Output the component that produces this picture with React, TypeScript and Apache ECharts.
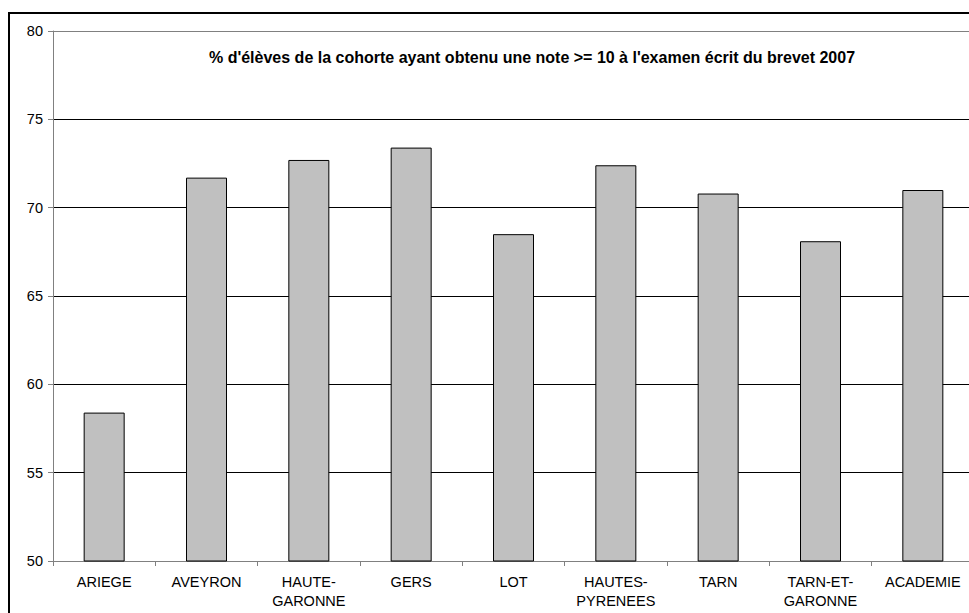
import React, { useEffect, useRef } from "react";
import * as echarts from "echarts";

const categories: string[] = [
  "ARIEGE",
  "AVEYRON",
  "HAUTE-\nGARONNE",
  "GERS",
  "LOT",
  "HAUTES-\nPYRENEES",
  "TARN",
  "TARN-ET-\nGARONNE",
  "ACADEMIE",
];
const values: number[] = [58.4, 71.7, 72.7, 73.4, 68.5, 72.4, 70.8, 68.1, 71.0];
const yMin = 50;
const yMax = 80;
const yStep = 5;
const chartTitle =
  "% d'élèves de la cohorte ayant obtenu une note >= 10 à l'examen écrit du brevet 2007";

const FONT = "'Liberation Sans', Arial, sans-serif";

export default function App() {
  const ref = useRef<HTMLDivElement>(null);
  useEffect(() => {
    if (!ref.current) return;
    const chart = echarts.init(ref.current, undefined, { renderer: "svg" });
    const option: any = {
      animation: false,
      backgroundColor: "transparent",
      textStyle: { fontFamily: FONT },
      grid: {
        left: 53,
        top: 31,
        width: 921,
        height: 530,
        containLabel: false,
        outerBoundsMode: "none",
        show: false,
      },
      graphic: [
        {
          type: "text",
          x: 532,
          y: 57,
          style: {
            text: chartTitle,
            fontFamily: FONT,
            fontSize: 16,
            fontWeight: "bold",
            fill: "#000",
            textAlign: "center",
            textVerticalAlign: "middle",
          },
        },
      ],
      xAxis: {
        type: "category",
        data: categories,
        boundaryGap: true,
        axisLine: { show: true, lineStyle: { color: "#808080", width: 1 } },
        axisTick: {
          show: true,
          length: 5,
          alignWithLabel: false,
          lineStyle: { color: "#808080" },
        },
        axisLabel: {
          interval: 0,
          margin: 11,
          color: "#000",
          fontFamily: FONT,
          fontSize: 14.5,
          lineHeight: 19,
          align: "center",
        },
        splitLine: { show: false },
      },
      yAxis: {
        type: "value",
        min: yMin,
        max: yMax,
        interval: yStep,
        axisLine: { show: true, lineStyle: { color: "#808080", width: 1 } },
        axisTick: { show: true, length: 5, lineStyle: { color: "#808080" } },
        axisLabel: {
          margin: 10,
          color: "#000",
          fontFamily: FONT,
          fontSize: 14.5,
        },
        splitLine: {
          show: true,
          lineStyle: {
            color: ["#808080", "#000", "#000", "#000", "#000", "#000", "#808080"],
            width: 1,
          },
        },
      },
      series: [
        {
          type: "bar",
          data: values,
          barWidth: 41,
          itemStyle: {
            color: "#c0c0c0",
            borderColor: "#000",
            borderWidth: 1,
          },
          emphasis: { disabled: true },
        },
      ],
    };
    chart.setOption(option);
    return () => chart.dispose();
  }, []);

  return (
    <div
      style={{
        position: "fixed",
        left: 0,
        top: 0,
        width: 969,
        height: 613,
        overflow: "hidden",
        background: "#fff",
      }}
    >
      <div
        style={{
          position: "absolute",
          left: 8,
          top: 12,
          width: 1000,
          height: 700,
          border: "2px solid #000",
          boxSizing: "border-box",
        }}
      />
      <div
        ref={ref}
        style={{ position: "absolute", left: 0, top: 0, width: 990, height: 640 }}
      />
    </div>
  );
}
